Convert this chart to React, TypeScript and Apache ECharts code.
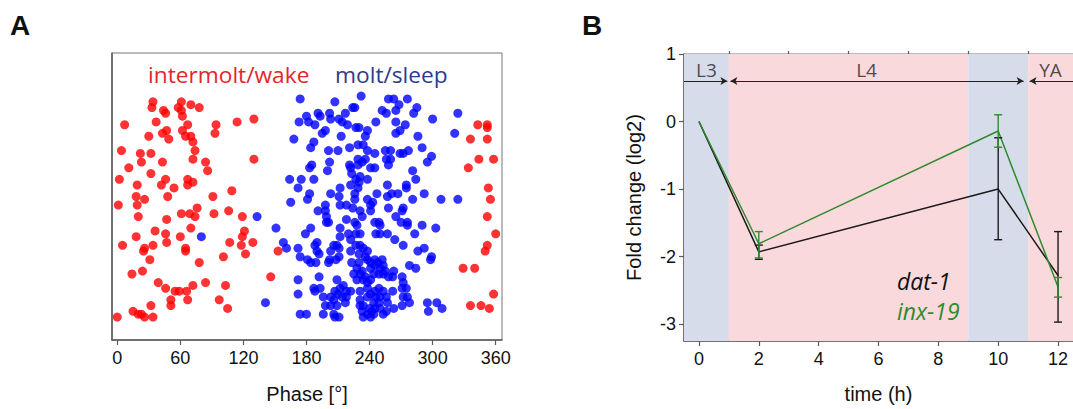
import React, { useEffect, useRef } from "react";
import * as echarts from "echarts";

// ---------- Panel A data: [phase (deg), level (arbitrary 0-100)] ----------
const wakePoints: [number, number][] = [
  [34, 83], [33, 81], [61, 83], [70, 82], [58, 81], [78, 81], [44, 80], [46, 79], [61, 80], [62, 78],
  [7, 75], [37, 76], [94, 75], [114, 76], [130, 77], [67, 75], [93, 72], [30, 71], [43, 72], [47, 73],
  [49, 70], [62, 73], [65, 71], [70, 71], [72, 69], [4, 66], [74, 66], [22, 65], [32, 65], [72, 63],
  [130, 63], [23, 62], [43, 62], [84, 62], [11, 60], [86, 59], [32, 58], [2, 56], [46, 56], [67, 56],
  [72, 55], [19, 54], [42, 54], [54, 53], [67, 54], [109, 52], [18, 50], [26, 49], [48, 50], [91, 50],
  [1, 47], [19, 47], [76, 46], [20, 43], [61, 44], [69, 44], [74, 43], [92, 44], [106, 45], [119, 43],
  [47, 42], [70, 39], [36, 38], [46, 37], [18, 36], [60, 36], [121, 38], [119, 36], [5, 33], [26, 32],
  [25, 31], [34, 33], [47, 34], [65, 32], [65, 31], [107, 34], [118, 33], [129, 34], [31, 28], [78, 27],
  [101, 29], [122, 30], [153, 31], [14, 23], [24, 24], [146, 22], [39, 20], [46, 18], [55, 17], [59, 17],
  [66, 17], [72, 19], [84, 20], [103, 19], [32, 12], [51, 14], [51, 12], [67, 14], [97, 14], [105, 11],
  [0, 8], [15, 10], [20, 9], [23, 9], [26, 8], [34, 8],
  [343, 75], [352, 75], [352, 74], [336, 70], [352, 70], [344, 63], [358, 63], [334, 60], [353, 53], [355, 49],
  [352, 43], [360, 37], [352, 33], [350, 31], [329, 25], [340, 25], [358, 16], [336, 12], [346, 12], [354, 11],
];

const sleepPoints: [number, number][] = [
  [80, 36], [133, 43], [141, 13], [151, 39], [158, 34], [161, 32],
  [174, 84], [207, 83], [232, 85], [224, 81], [226, 81], [217, 79], [180, 78], [191, 79], [193, 78], [202, 79],
  [203, 77], [173, 76], [182, 76], [188, 75], [211, 77], [214, 76], [219, 75], [227, 74], [230, 74], [246, 76],
  [252, 80], [256, 79], [258, 84], [168, 70], [195, 72], [198, 73], [213, 71], [238, 73], [236, 71], [187, 69],
  [184, 67], [201, 66], [210, 66], [221, 67], [229, 68], [234, 68], [238, 66], [245, 65], [255, 66], [202, 62],
  [185, 61], [183, 60], [200, 59], [221, 61], [222, 60], [229, 63], [233, 62], [229, 61], [236, 63], [241, 60],
  [245, 60], [256, 63], [258, 61], [223, 58], [231, 57], [238, 56], [227, 56], [164, 56], [175, 56], [187, 56],
  [172, 53], [222, 54], [230, 55], [229, 53], [257, 54], [212, 53], [203, 51], [183, 51], [181, 49], [211, 50],
  [165, 48], [226, 51], [226, 49], [247, 51], [238, 49], [241, 47], [243, 48], [257, 50], [212, 47], [218, 47],
  [224, 46], [231, 45], [258, 46], [198, 47], [191, 45], [198, 45], [199, 43], [233, 43], [241, 45], [218, 42],
  [226, 41], [228, 40], [201, 41], [199, 41], [212, 39], [245, 41], [249, 41], [250, 40], [184, 39], [179, 37],
  [220, 37], [227, 37], [231, 37], [212, 36], [246, 37], [250, 37], [257, 37], [222, 35], [190, 34], [188, 33],
  [227, 33], [231, 33], [209, 33], [206, 33], [234, 32], [172, 32], [190, 31], [203, 31], [211, 32], [192, 30],
  [222, 31], [238, 31], [236, 29], [230, 30], [174, 29], [181, 28], [202, 28], [211, 29], [208, 28], [230, 27],
  [223, 27], [238, 28], [241, 27], [245, 28], [248, 27], [252, 28], [253, 26], [184, 27], [189, 27], [201, 27],
  [228, 25], [233, 24], [241, 25], [245, 26], [250, 25], [255, 24], [225, 23], [231, 23], [236, 22], [244, 23],
  [249, 23], [253, 23], [228, 21], [234, 21], [238, 20], [241, 21], [258, 22], [172, 21], [192, 22], [209, 21],
  [215, 19], [212, 18], [207, 17], [210, 16], [218, 17], [187, 18], [193, 18], [188, 17], [172, 16], [222, 17],
  [231, 17], [238, 18], [245, 17], [249, 18], [253, 17], [241, 16], [246, 15], [250, 15], [203, 15], [206, 14],
  [214, 15], [218, 15], [196, 15], [231, 14], [238, 15], [244, 13], [249, 13], [256, 15], [257, 13], [203, 12],
  [198, 12], [209, 12], [217, 13], [231, 12], [234, 12], [240, 11], [242, 10], [245, 11], [250, 11], [196, 9],
  [206, 9], [211, 8], [207, 8], [174, 9], [180, 9], [233, 10], [234, 8], [238, 9], [241, 8], [244, 9],
  [253, 9], [256, 10],
  [263, 84], [276, 84], [285, 81], [282, 79], [265, 80], [268, 82], [265, 76], [300, 77], [324, 79], [321, 72],
  [274, 75], [269, 73], [265, 72], [286, 71], [290, 67], [277, 66], [269, 65], [272, 65], [299, 64], [295, 62],
  [260, 66], [260, 63], [281, 59], [284, 56], [275, 54], [275, 53], [267, 51], [261, 51], [292, 51], [281, 49],
  [308, 49], [324, 49], [272, 46], [271, 45], [265, 43], [270, 41], [276, 41], [276, 40], [290, 40], [303, 39],
  [283, 37], [264, 35], [272, 33], [292, 32], [286, 31], [299, 29], [298, 28], [278, 26], [284, 25], [263, 24],
  [271, 22], [272, 20], [262, 22], [271, 18], [275, 18], [262, 17], [276, 15], [272, 15], [278, 13], [271, 12],
  [263, 11], [295, 13], [304, 13], [309, 11], [296, 10],
];

const phaseTicks = [0, 60, 120, 180, 240, 300, 360];

// ---------- Panel B data ----------
const hours = [0, 2, 10, 12];
const dat1 = [0, -1.93, -1.0, -2.28];
const inx19 = [0, -1.81, -0.14, -2.45];
const errHours = [2, 10, 12];
const dat1Low = [-2.04, -1.75, -2.97];
const dat1High = [-1.83, -0.24, -1.63];
const inx19Low = [-2.02, -0.38, -2.6];
const inx19High = [-1.63, 0.1, -2.31];

const timeTicks = [0, 2, 4, 6, 8, 10, 12];
const timeMinorTicks = [1, 3, 5, 7, 9, 11];
const foldTicks = [-3, -2, -1, 0, 1];
const foldMinorTicks = [-2.5, -1.5, -0.5, 0.5];

const bandStart = [-0.5, 1, 9, 11];
const bandEnd = [1, 9, 11, 12.5];
const bandIsMolt = [true, false, true, false];

const stageNames = ["L3", "L4", "YA"];
const stageCenter = [0.25, 5.6, 11.75];
const stageStart = [-0.5, 1.05, 11.05];
const stageEnd = [0.95, 10.85, 12.5];
const stageArrowStart = [false, true, true];
const stageArrowEnd = [true, true, false];
const stageLineY = 0.6;
const stageLabelY = 0.77;

const RED = "#ff0000";
const BLUE = "#0000ff";
const BLACK = "#1a1a1a";
const GREEN = "#2e8b2e";
const MOLT_BG = "#d7dcea";
const WAKE_BG = "#fad9dc";
const AXIS = "#5a5a5a";
const SANS = "'Liberation Sans', Arial, sans-serif";
const OPEN = "'Open Sans', 'Noto Sans', sans-serif";

function errRender(color: string) {
  return (params: any, api: any) => {
    const x = api.value(0);
    const lo = api.value(1);
    const hi = api.value(2);
    const p1 = api.coord([x, lo]);
    const p2 = api.coord([x, hi]);
    const w = 4;
    const style = { stroke: color, lineWidth: 1.4 };
    return {
      type: "group",
      children: [
        { type: "line", shape: { x1: p1[0], y1: p1[1], x2: p2[0], y2: p2[1] }, style },
        { type: "line", shape: { x1: p1[0] - w, y1: p1[1], x2: p1[0] + w, y2: p1[1] }, style },
        { type: "line", shape: { x1: p2[0] - w, y1: p2[1], x2: p2[0] + w, y2: p2[1] }, style },
      ],
    };
  };
}

export default function App() {
  const ref = useRef<HTMLDivElement>(null);
  useEffect(() => {
    if (!ref.current) return;
    const chart = echarts.init(ref.current, undefined, { renderer: "svg" });

    const bandData = bandStart.map((s, i) => [
      { xAxis: s, itemStyle: { color: bandIsMolt[i] ? MOLT_BG : WAKE_BG } },
      { xAxis: bandEnd[i] },
    ]);
    const arrowData = stageNames.map((_, i) => [
      { coord: [stageStart[i], stageLineY], symbol: stageArrowStart[i] ? "arrow" : "none" },
      { coord: [stageEnd[i], stageLineY], symbol: stageArrowEnd[i] ? "arrow" : "none" },
    ]);

    const tickLabel = { color: "#111", fontSize: 18, fontFamily: SANS };
    const axisName = { color: "#111", fontSize: 20, fontFamily: SANS };

    const option: any = {
      animation: false,
      grid: [
        { left: 112, top: 53, width: 390, height: 289, show: true, borderColor: "#777", borderWidth: 1, backgroundColor: "transparent" },
        { left: 684, top: 54, width: 390, height: 288, show: true, borderColor: "#777", borderWidth: 1, backgroundColor: "transparent" },
      ],
      xAxis: [
        {
          gridIndex: 0, type: "value", min: -5, max: 366,
          axisLine: { show: true, onZero: false, lineStyle: { color: AXIS, width: 1.5 } },
          axisTick: { show: true, length: 5, lineStyle: { color: AXIS, width: 1.2 }, customValues: phaseTicks },
          axisLabel: { customValues: phaseTicks, margin: 9, ...tickLabel },
          splitLine: { show: false },
          name: "Phase [°]", nameLocation: "middle", nameGap: 44, nameTextStyle: axisName,
        },
        {
          gridIndex: 1, type: "value", min: -0.5, max: 12.5,
          axisLine: { show: true, onZero: false, lineStyle: { color: AXIS, width: 1.5 } },
          axisTick: { show: true, length: 5, lineStyle: { color: AXIS, width: 1.2 }, customValues: timeTicks },
          axisLabel: { customValues: timeTicks, margin: 9, ...tickLabel },
          splitLine: { show: false },
          name: "time (h)", nameLocation: "middle", nameGap: 43, nameTextStyle: axisName,
        },
        {
          gridIndex: 1, type: "value", min: -0.5, max: 12.5,
          axisLine: { show: false, onZero: false },
          axisTick: { show: true, length: 3, lineStyle: { color: AXIS, width: 1.2 }, customValues: timeMinorTicks },
          axisLabel: { show: false },
          splitLine: { show: false },
        },
      ],
      yAxis: [
        {
          gridIndex: 0, type: "value", min: 0, max: 100,
          axisLine: { show: true, onZero: false, lineStyle: { color: AXIS, width: 1.5 } },
          axisTick: { show: false }, axisLabel: { show: false }, splitLine: { show: false },
        },
        {
          gridIndex: 1, type: "value", min: -3.25, max: 1,
          axisLine: { show: true, onZero: false, lineStyle: { color: AXIS, width: 1.5 } },
          axisTick: { show: true, length: 5, lineStyle: { color: AXIS, width: 1.2 }, customValues: foldTicks },
          axisLabel: { customValues: foldTicks, margin: 8, ...tickLabel },
          splitLine: { show: false },
          name: "Fold change (log2)", nameLocation: "middle", nameGap: 40, nameTextStyle: axisName,
        },
        {
          gridIndex: 1, type: "value", min: -3.25, max: 1,
          axisLine: { show: false, onZero: false },
          axisTick: { show: true, length: 3, lineStyle: { color: AXIS, width: 1.2 }, customValues: foldMinorTicks },
          axisLabel: { show: false }, splitLine: { show: false },
        },
      ],
      series: [
        {
          type: "scatter", xAxisIndex: 0, yAxisIndex: 0, data: wakePoints,
          symbolSize: 9, itemStyle: { color: RED }, z: 3,
        },
        {
          type: "scatter", xAxisIndex: 0, yAxisIndex: 0, data: sleepPoints,
          symbolSize: 9, itemStyle: { color: BLUE }, z: 3,
        },
        {
          type: "scatter", xAxisIndex: 1, yAxisIndex: 1, z: 1,
          data: stageNames.map((n, i) => ({ value: [stageCenter[i], stageLabelY], name: n })),
          symbolSize: 0,
          label: { show: true, formatter: "{b}", position: "inside", color: "#222", fontSize: 19, fontFamily: OPEN },
          markArea: { silent: true, data: bandData },
          markLine: {
            silent: true, symbol: ["none", "none"], symbolSize: [6, 7],
            lineStyle: { color: "#222", width: 1, type: "solid" },
            label: { show: false },
            data: arrowData,
          },
        },
        {
          type: "line", xAxisIndex: 1, yAxisIndex: 1, z: 4,
          data: hours.map((h, i) => [h, dat1[i]]),
          showSymbol: false, lineStyle: { color: BLACK, width: 1.5 }, itemStyle: { color: BLACK },
        },
        {
          type: "line", xAxisIndex: 1, yAxisIndex: 1, z: 4,
          data: hours.map((h, i) => [h, inx19[i]]),
          showSymbol: false, lineStyle: { color: GREEN, width: 1.5 }, itemStyle: { color: GREEN },
        },
        {
          type: "custom", xAxisIndex: 1, yAxisIndex: 1, z: 5,
          data: errHours.map((h, i) => [h, dat1Low[i], dat1High[i]]),
          renderItem: errRender(BLACK),
        },
        {
          type: "custom", xAxisIndex: 1, yAxisIndex: 1, z: 6,
          data: errHours.map((h, i) => [h, inx19Low[i], inx19High[i]]),
          renderItem: errRender(GREEN),
        },
      ],
      graphic: [
        { type: "text", left: 10, top: 11, style: { text: "A", fontSize: 28, fontWeight: "bold", fontFamily: SANS, fill: "#111" } },
        { type: "text", left: 582, top: 11, style: { text: "B", fontSize: 28, fontWeight: "bold", fontFamily: SANS, fill: "#111" } },
        { type: "text", x: 148, y: 74, style: { text: "intermolt/wake", fontSize: 22.7, fontFamily: OPEN, fill: "#e3262b", verticalAlign: "middle" } },
        { type: "text", x: 335, y: 74, style: { text: "molt/sleep", fontSize: 22.7, fontFamily: OPEN, fill: "#2e3a8c", verticalAlign: "middle" } },
        { type: "text", x: 897, y: 281, z: 10, style: { text: "dat-1", fontSize: 23, fontStyle: "italic", fontFamily: OPEN, fill: "#111", verticalAlign: "middle" } },
        { type: "text", x: 897, y: 311, z: 10, style: { text: "inx-19", fontSize: 23, fontStyle: "italic", fontFamily: OPEN, fill: GREEN, verticalAlign: "middle" } },
      ],
    };
    chart.setOption(option);
    return () => chart.dispose();
  }, []);
  return (
    <div
      ref={ref}
      style={{ position: "fixed", left: 0, top: 0, width: 1073, height: 409, background: "#fff" }}
    />
  );
}
